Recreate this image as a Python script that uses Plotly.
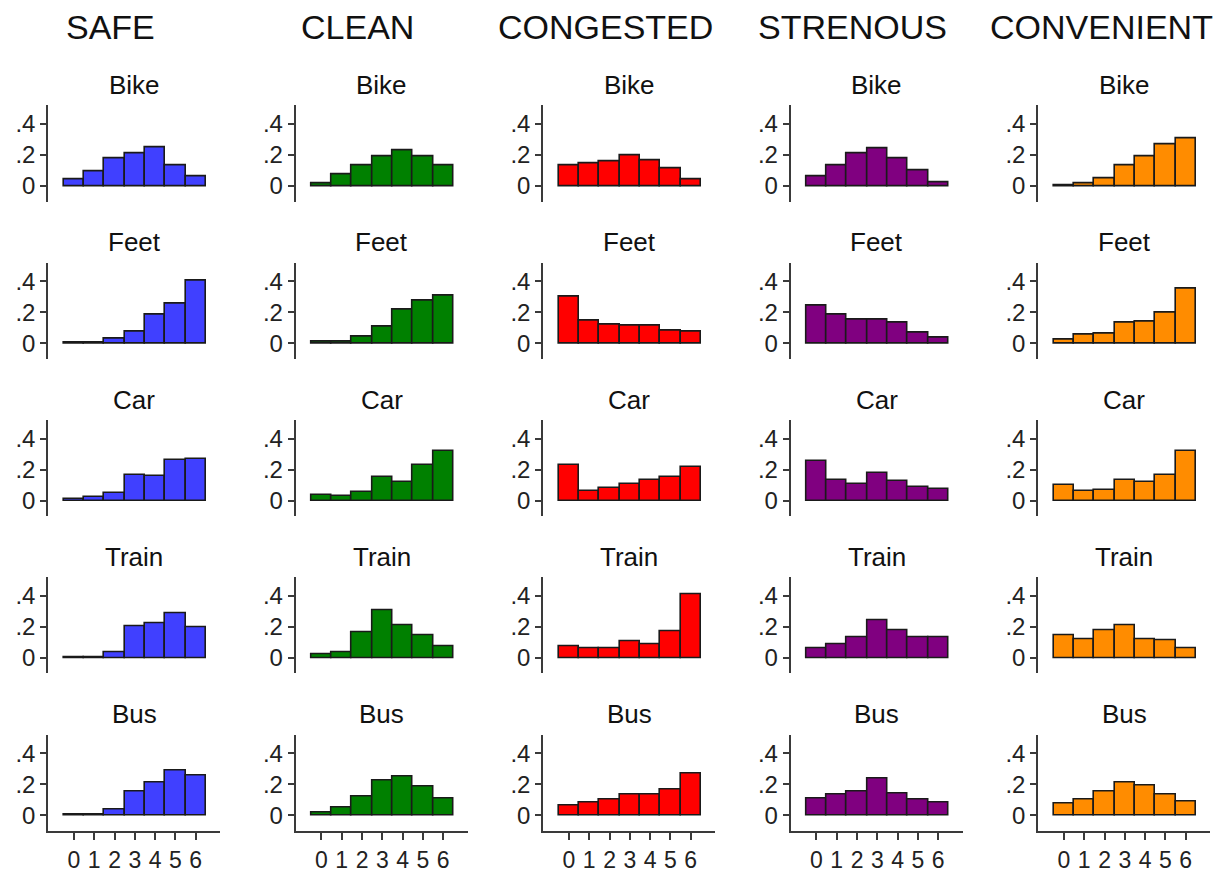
import plotly.graph_objects as go

# Rating scale categories (0..6) and panel labels
scores = [0, 1, 2, 3, 4, 5, 6]
modes = ["Bike", "Feet", "Car", "Train", "Bus"]
attributes = ["SAFE", "CLEAN", "CONGESTED", "STRENOUS", "CONVENIENT"]

# Share of responses at each score, one row per mode (Bike, Feet, Car, Train, Bus)
safe = [
    [0.042, 0.093, 0.180, 0.208, 0.250, 0.135, 0.059],
    [0.003, 0.003, 0.032, 0.075, 0.184, 0.257, 0.406],
    [0.011, 0.024, 0.052, 0.166, 0.157, 0.262, 0.267],
    [0.004, 0.003, 0.039, 0.204, 0.221, 0.290, 0.200],
    [0.002, 0.002, 0.034, 0.153, 0.213, 0.286, 0.256],
]
clean = [
    [0.017, 0.078, 0.130, 0.188, 0.228, 0.188, 0.136],
    [0.010, 0.010, 0.044, 0.105, 0.215, 0.276, 0.310],
    [0.035, 0.027, 0.054, 0.154, 0.123, 0.229, 0.323],
    [0.023, 0.038, 0.164, 0.309, 0.210, 0.145, 0.074],
    [0.019, 0.046, 0.117, 0.225, 0.252, 0.183, 0.110],
]
congested = [
    [0.133, 0.144, 0.160, 0.195, 0.167, 0.116, 0.045],
    [0.300, 0.148, 0.117, 0.113, 0.115, 0.080, 0.076],
    [0.228, 0.065, 0.080, 0.110, 0.130, 0.150, 0.220],
    [0.075, 0.060, 0.060, 0.110, 0.085, 0.170, 0.410],
    [0.065, 0.080, 0.100, 0.130, 0.135, 0.165, 0.270],
]
strenous = [
    [0.065, 0.135, 0.210, 0.245, 0.180, 0.100, 0.025],
    [0.240, 0.185, 0.150, 0.150, 0.135, 0.070, 0.035],
    [0.255, 0.130, 0.110, 0.180, 0.125, 0.085, 0.075],
    [0.065, 0.090, 0.130, 0.245, 0.175, 0.135, 0.130],
    [0.110, 0.130, 0.155, 0.235, 0.140, 0.100, 0.080],
]
convenient = [
    [0.005, 0.020, 0.050, 0.130, 0.190, 0.270, 0.305],
    [0.025, 0.055, 0.060, 0.130, 0.140, 0.195, 0.350],
    [0.100, 0.065, 0.070, 0.130, 0.120, 0.165, 0.320],
    [0.145, 0.120, 0.180, 0.210, 0.120, 0.115, 0.065],
    [0.075, 0.100, 0.150, 0.210, 0.190, 0.135, 0.090],
]
y_ticks = [0, 0.2, 0.4]
y_tick_text = ["0", ".2", ".4"]

columns = [safe, clean, congested, strenous, convenient]
colors = ["#4040ff", "#008000", "#ff0000", "#800080", "#ff8c00"]

W, H = 1227, 875
FONT = "Liberation Sans, Arial, sans-serif"
AXIS_COL = "#3a3a3a"

# Panel geometry in pixels
col_left = [48, 295.5, 543, 790.5, 1038]
panel_w = 172
row_zero = [186, 343.3, 500.6, 657.9, 815.2]
y_lo, y_hi = -0.1, 0.52
px_per_unit = 155
x_lo, x_hi = -1.28, 7.2


def px_x(x):
    return x / W


def px_y(y):
    return 1 - y / H


fig = go.Figure()
layout_axes = {}
annotations = []

idx = 0
for c, (attr, data, color) in enumerate(zip(attributes, columns, colors)):
    for r, mode in enumerate(modes):
        idx += 1
        xa = "x" if idx == 1 else f"x{idx}"
        ya = "y" if idx == 1 else f"y{idx}"
        xkey = "xaxis" if idx == 1 else f"xaxis{idx}"
        ykey = "yaxis" if idx == 1 else f"yaxis{idx}"

        fig.add_trace(go.Bar(
            x=scores, y=data[r], xaxis=xa, yaxis=ya,
            marker=dict(color=color, line=dict(color="#1a1a1a", width=1.6)),
            width=1.0, showlegend=False, hoverinfo="x+y",
        ))

        top = row_zero[r] - y_hi * px_per_unit
        bottom = row_zero[r] - y_lo * px_per_unit
        left = col_left[c]
        right = left + panel_w
        bottom_row = (r == len(modes) - 1)

        layout_axes[xkey] = dict(
            domain=[px_x(left), px_x(right)], anchor=ya, range=[x_lo, x_hi],
            showgrid=False, zeroline=False,
            showline=bottom_row, linecolor=AXIS_COL, linewidth=1.5,
            ticks="outside" if bottom_row else "", ticklen=8, tickwidth=1.5,
            tickcolor=AXIS_COL, tickvals=scores if bottom_row else [],
            ticktext=[str(s) for s in scores] if bottom_row else [],
            showticklabels=bottom_row,
            tickfont=dict(family=FONT, size=23, color="#222222"),
            fixedrange=True,
        )
        layout_axes[ykey] = dict(
            domain=[px_y(bottom), px_y(top)], anchor=xa, range=[y_lo, y_hi],
            showgrid=False, zeroline=False,
            showline=True, linecolor=AXIS_COL, linewidth=1.5,
            ticks="outside", ticklen=6, tickwidth=1.5, tickcolor=AXIS_COL,
            tickvals=y_ticks, ticktext=y_tick_text,
            tickfont=dict(family=FONT, size=24, color="#222222"),
            fixedrange=True,
        )

        annotations.append(dict(
            text=mode, x=px_x(left + panel_w / 2), y=px_y(row_zero[r] - 101),
            xref="paper", yref="paper", xanchor="center", yanchor="middle",
            showarrow=False, font=dict(family=FONT, size=26, color="#111111"),
        ))

# Column headers
header_x = [110.5, 357, 605, 852, 1101]
for attr, hx in zip(attributes, header_x):
    annotations.append(dict(
        text=attr, x=px_x(hx), y=px_y(27), xref="paper", yref="paper",
        xanchor="center", yanchor="middle", showarrow=False,
        font=dict(family=FONT, size=34, color="#111111"),
    ))

fig.update_layout(
    width=W, height=H, margin=dict(l=0, r=0, t=0, b=0),
    paper_bgcolor="white", plot_bgcolor="white",
    bargap=0, annotations=annotations, **layout_axes,
)

fig.write_html("out.html")
